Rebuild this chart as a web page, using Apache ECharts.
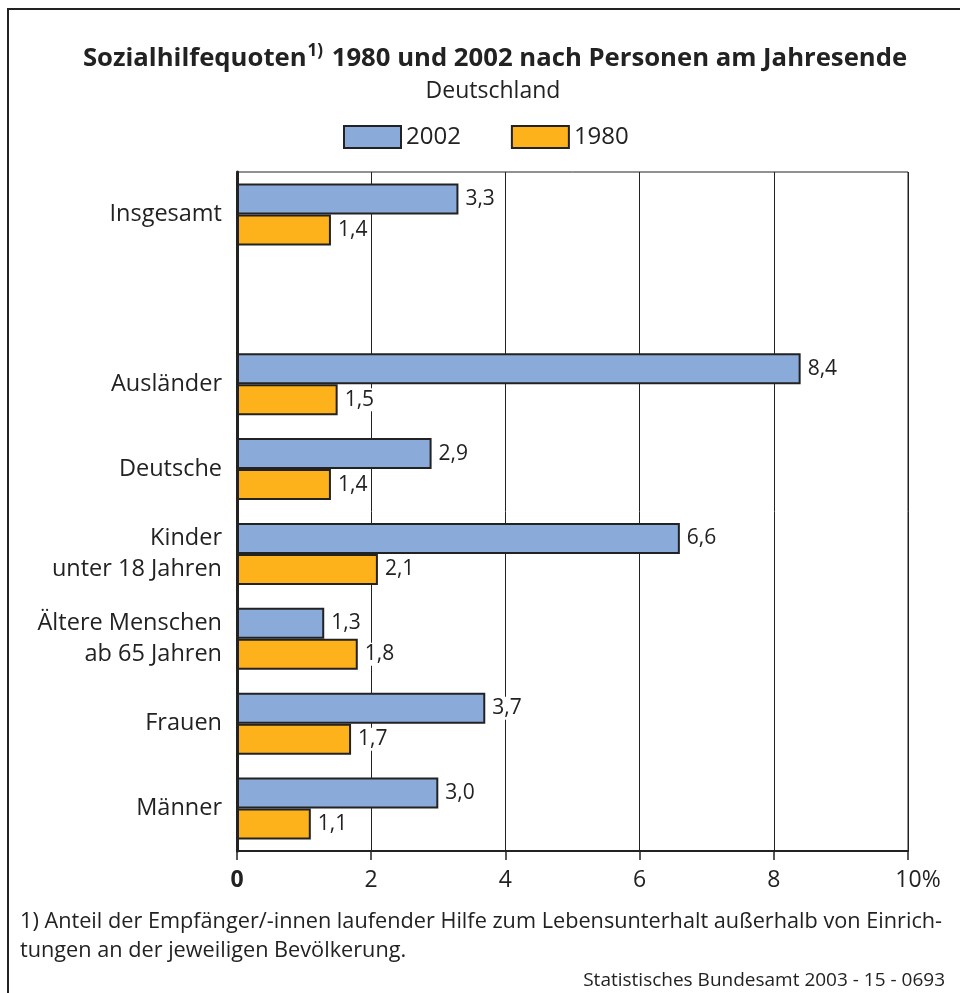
<!DOCTYPE html>
<html>
<head>
<meta charset="utf-8">
<script src="https://cdn.jsdelivr.net/npm/echarts@6/dist/echarts.min.js"></script>
<style>
  html, body { margin: 0; padding: 0; background: #fff; }
  #chart { width: 960px; height: 993px; }
</style>
</head>
<body>
<div id="chart"></div>
<script>
// Kategorien (leere Kategorie = Lücke nach "Insgesamt")
const categories = ['Insgesamt', '', 'Ausländer', 'Deutsche', 'Kinder\nunter 18 Jahren',
  'Ältere Menschen\nab 65 Jahren', 'Frauen', 'Männer'];
const values2002 = [3.3, null, 8.4, 2.9, 6.6, 1.3, 3.7, 3.0];
const values1980 = [1.4, null, 1.5, 1.4, 2.1, 1.8, 1.7, 1.1];
const tickValues = [0, 2, 4, 6, 8, 10];

const FONT = '"Open Sans"';
const TEXT = '#222';

const chart = echarts.init(document.getElementById('chart'));

function valueLabel() {
  return {
    show: true,
    position: 'right',
    distance: 4,
    color: TEXT,
    fontFamily: FONT,
    fontSize: 21,
    backgroundColor: '#fff',
    padding: [1, 3],
    formatter: p => p.value == null ? '' : p.value.toFixed(1).replace('.', ',')
  };
}

const option = {
  backgroundColor: '#fff',
  textStyle: { fontFamily: FONT, color: TEXT },
  title: [
    {
      text: '{t|Sozialhilfequoten}{s|1)}{t| 1980 und 2002 nach Personen am Jahresende}',
      left: 490, textAlign: 'center', top: 38,
      textStyle: {
        rich: {
          t: { fontFamily: FONT, fontSize: 25.7, fontWeight: 'bold', color: TEXT, lineHeight: 32 },
          s: { fontFamily: FONT, fontSize: 17, color: TEXT, verticalAlign: 'top', padding: [0, 2, 10, 1] }
        }
      }
    },
    {
      text: 'Deutschland',
      left: 488, textAlign: 'center', top: 75,
      textStyle: { fontFamily: FONT, fontSize: 23, fontWeight: 'normal', color: TEXT }
    }
  ],
  legend: {
    top: 125, left: 343, padding: 0,
    itemWidth: 57, itemHeight: 22, itemGap: 50,
    icon: 'rect',
    textStyle: { fontFamily: FONT, fontSize: 24, color: TEXT, padding: [0, 0, 0, 0] },
    data: ['2002', '1980']
  },
  grid: {
    left: 237, right: 52, top: 172, bottom: 142,
    show: true, borderColor: '#222', borderWidth: 1
  },
  xAxis: {
    type: 'value', min: 0, max: 10, interval: 2,
    axisLine: { show: true, lineStyle: { color: '#222', width: 2 } },
    axisTick: { show: true, length: 9, lineStyle: { color: '#222', width: 1.5 } },
    splitLine: { show: true, lineStyle: { color: '#222', width: 1 } },
    axisLabel: {
      margin: 18, fontFamily: FONT, fontSize: 23, color: TEXT,
      formatter: v => {
        if (v === 0) return '{b|0}';
        if (v === 10) return '{p|10%}';
        return String(v);
      },
      rich: {
        b: { fontFamily: FONT, fontSize: 23, fontWeight: 'bold', color: TEXT },
        p: { fontFamily: FONT, fontSize: 23, color: TEXT, padding: [0, 0, 0, 20] }
      }
    }
  },
  yAxis: {
    type: 'category', inverse: true, data: categories,
    axisLine: { show: true, lineStyle: { color: '#222', width: 3 } },
    axisTick: { show: false },
    axisLabel: {
      margin: 15, fontFamily: FONT, fontSize: 23.5, color: TEXT,
      align: 'right', lineHeight: 31
    }
  },
  series: [
    {
      name: '2002', type: 'bar', data: values2002,
      barWidth: 31, barGap: '0%',
      itemStyle: { color: '#8aabd9', borderColor: '#222', borderWidth: 2 },
      label: valueLabel(),
      z: 3
    },
    {
      name: '1980', type: 'bar', data: values1980,
      barWidth: 31, barGap: '0%',
      itemStyle: { color: '#fdb11b', borderColor: '#222', borderWidth: 2 },
      label: valueLabel(),
      z: 3
    }
  ],
  graphic: [
    { type: 'line', shape: { x1: 7, y1: 9, x2: 960, y2: 9 }, style: { stroke: '#222', lineWidth: 2 } },
    { type: 'line', shape: { x1: 8, y1: 9, x2: 8, y2: 993 }, style: { stroke: '#222', lineWidth: 2 } },
    {
      type: 'text', left: 20, top: 907,
      style: {
        text: '1) Anteil der Empfänger/-innen laufender Hilfe zum Lebensunterhalt außerhalb von Einrich-\ntungen an der jeweiligen Bevölkerung.',
        fontFamily: FONT, fontSize: 21.7, fill: TEXT, lineHeight: 29
      }
    },
    {
      type: 'text', right: 15, top: 971,
      style: {
        text: 'Statistisches Bundesamt 2003 - 15 - 0693',
        fontFamily: FONT, fontSize: 19, fill: TEXT, textAlign: 'right'
      }
    }
  ]
};

chart.setOption(option);
</script>
</body>
</html>
